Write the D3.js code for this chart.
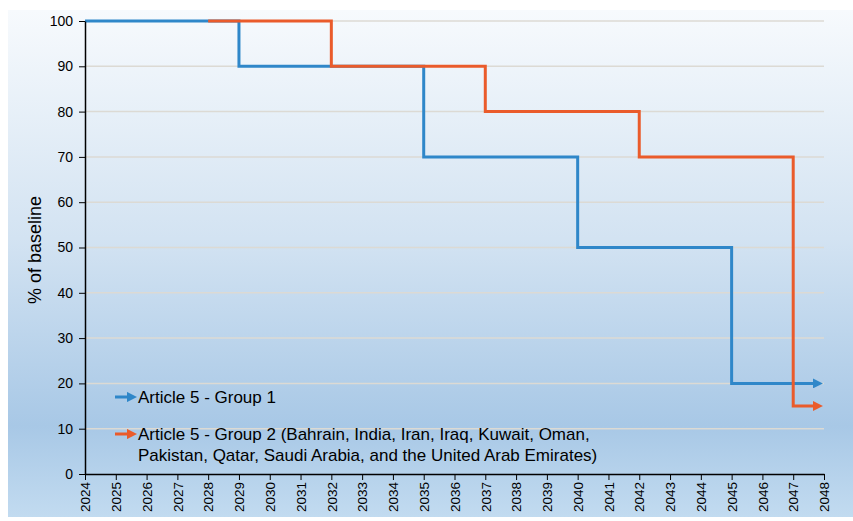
<!DOCTYPE html>
<html>
<head>
<meta charset="utf-8">
<script src="https://cdn.jsdelivr.net/npm/d3@7"></script>
<style>
  body { margin: 0; background: #fff; }
  svg { display: block; font-family: "Liberation Sans", Arial, sans-serif; }
</style>
</head>
<body>
<div class="chart"></div>
<script>
// data
const years = d3.range(2024, 2049);
const yTicks = [0, 10, 20, 30, 40, 50, 60, 70, 80, 90, 100];
const group1Years = [2024, 2029, 2035, 2040, 2045, 2048];
const group1Values = [100, 90, 70, 50, 20, 20];
const group2Years = [2028, 2032, 2037, 2042, 2047, 2048];
const group2Values = [100, 90, 80, 70, 15, 15];
const seriesNames = ["Article 5 - Group 1",
  ["Article 5 - Group 2 (Bahrain, India, Iran, Iraq, Kuwait, Oman,",
   "Pakistan, Qatar, Saudi Arabia, and the United Arab Emirates)"]];
const colors = ["#2f87c9", "#ea5b2b"];

const width = 853, height = 521;
const margin = {top: 21, right: 29, bottom: 47, left: 85};

let svg = d3.select(".chart").append("svg")
  .attr("width", width)
  .attr("height", height);

// background gradient
let defs = svg.append("defs");
let grad = defs.append("linearGradient")
  .attr("id", "bg").attr("x1", 0).attr("y1", 0).attr("x2", 0).attr("y2", 1);
grad.append("stop").attr("offset", "0%").attr("stop-color", "#f7fafd");
grad.append("stop").attr("offset", "45%").attr("stop-color", "#d3e3f2");
grad.append("stop").attr("offset", "82%").attr("stop-color", "#a8c8e6");
grad.append("stop").attr("offset", "100%").attr("stop-color", "#c2dbf0");

svg.append("rect")
  .attr("x", 8).attr("y", 10)
  .attr("width", width - 8).attr("height", 507)
  .attr("fill", "url(#bg)");

colors.forEach(function(c, i) {
  defs.append("marker")
    .attr("id", "arrow" + i)
    .attr("viewBox", "0 0 10 10")
    .attr("refX", 2).attr("refY", 5)
    .attr("markerWidth", 3.4).attr("markerHeight", 3.4)
    .attr("markerUnits", "strokeWidth")
    .attr("orient", "auto")
  .append("path")
    .attr("d", "M0,0L10,5L0,10z")
    .attr("fill", c);
});

let x = d3.scaleLinear()
  .domain([2024, 2048])
  .range([margin.left, width - margin.right]);
let y = d3.scaleLinear()
  .domain([0, 100])
  .range([height - margin.bottom, margin.top]);

// gridlines
svg.append("g")
  .selectAll("line")
  .data(yTicks.filter(d => d > 0))
  .enter().append("line")
    .attr("x1", x(2024)).attr("x2", x(2048))
    .attr("y1", d => y(d)).attr("y2", d => y(d))
    .attr("stroke", "#dcdad4")
    .attr("stroke-width", 1.5);

// lines
let line = d3.line()
  .x(d => x(d[0]))
  .y(d => y(d[1]))
  .curve(d3.curveStepAfter);

[[group1Years, group1Values], [group2Years, group2Values]].forEach(function(s, i) {
  let pts = s[0].map((yr, j) => [yr, s[1][j]]);
  // stop a bit short so the arrow tip lands near 2048
  pts[pts.length - 1][0] = 2048 - 0.3;
  svg.append("path")
    .datum(pts)
    .attr("fill", "none")
    .attr("stroke", colors[i])
    .attr("stroke-width", 3)
    .attr("marker-end", "url(#arrow" + i + ")")
    .attr("d", line);
});

// axes
let yAxis = svg.append("g")
  .attr("transform", "translate(" + x(2024) + ",0)")
  .call(d3.axisLeft(y).tickValues(yTicks).tickSize(6).tickSizeOuter(0));
yAxis.selectAll("text").attr("font-size", 14).attr("fill", "#000").attr("dx", "-3");

let xAxis = svg.append("g")
  .attr("transform", "translate(0," + y(0) + ")")
  .call(d3.axisBottom(x).tickValues(years).tickFormat(d3.format("d")).tickSize(6).tickSizeOuter(0));
xAxis.selectAll("text")
  .attr("font-size", 13.5)
  .attr("fill", "#000")
  .attr("transform", "rotate(-90)")
  .attr("text-anchor", "end")
  .attr("x", -8)
  .attr("y", 0)
  .attr("dy", "0.35em");

svg.selectAll(".domain").attr("stroke", "#000").attr("stroke-width", 1.5);
svg.selectAll(".tick line").attr("stroke", "#000");

// y label
svg.append("text")
  .attr("transform", "translate(41,250) rotate(-90)")
  .attr("text-anchor", "middle")
  .attr("font-size", 18)
  .text("% of baseline");

// legend
let legY = [397, 434];
seriesNames.forEach(function(name, i) {
  svg.append("line")
    .attr("x1", 115).attr("x2", 129)
    .attr("y1", legY[i]).attr("y2", legY[i])
    .attr("stroke", colors[i])
    .attr("stroke-width", 3)
    .attr("marker-end", "url(#arrow" + i + ")");
  let t = svg.append("text")
    .attr("x", 138)
    .attr("y", legY[i] + 6)
    .attr("font-size", 17);
  (Array.isArray(name) ? name : [name]).forEach(function(l, k) {
    t.append("tspan").attr("x", 138).attr("dy", k ? 21 : 0).text(l);
  });
});
</script>
</body>
</html>
